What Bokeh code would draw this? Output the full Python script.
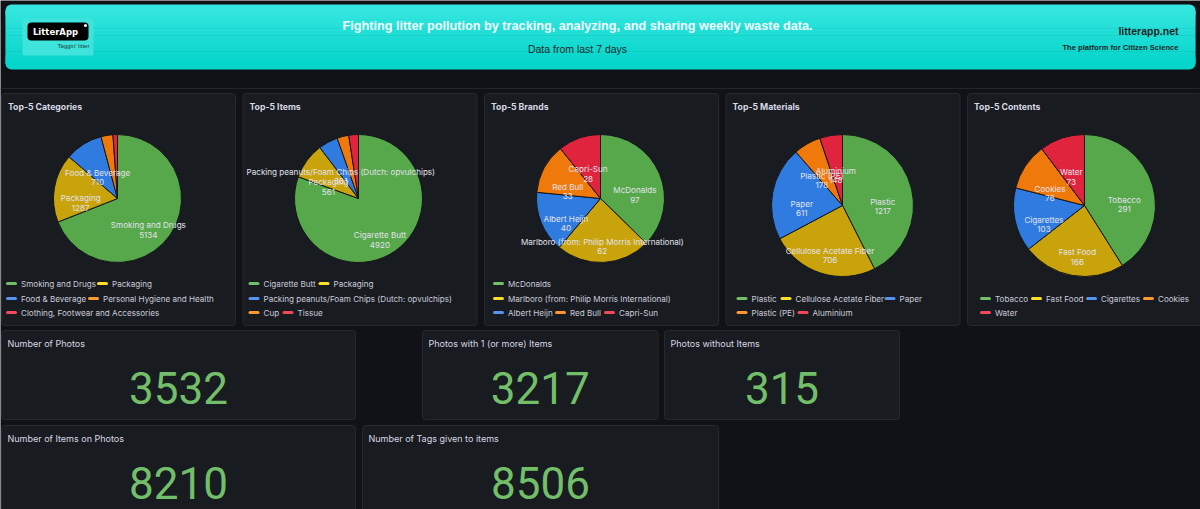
import numpy as np
from bokeh.plotting import figure
from bokeh.models import Range1d
from bokeh.core.properties import value
from bokeh.embed import file_html
from bokeh.resources import INLINE

W, H = 1200, 509

# ---------------- data ----------------
cat_names = ["Smoking and Drugs", "Packaging", "Food & Beverage",
             "Personal Hygiene and Health", "Clothing, Footwear and Accessories"]
cat_values = [5134, 1287, 710, 224, 85]

item_names = ["Cigarette Butt", "Packaging",
              "Packing peanuts/Foam Chips (Dutch: opvulchips)", "Cup", "Tissue"]
item_values = [4920, 561, 301, 180, 150]

brand_names = ["McDonalds", "Marlboro (from: Philip Morris International)",
               "Albert Heijn", "Red Bull", "Capri-Sun"]
brand_values = [97, 62, 40, 33, 28]

material_names = ["Plastic", "Cellulose Acetate Fiber", "Paper", "Plastic (PE)", "Aluminium"]
material_values = [1217, 706, 611, 178, 148]

content_names = ["Tobacco", "Fast Food", "Cigarettes", "Cookies", "Water"]
content_values = [291, 166, 103, 76, 73]

panel_titles = ["Top-5 Categories", "Top-5 Items", "Top-5 Brands", "Top-5 Materials", "Top-5 Contents"]

stat_titles = ["Number of Photos", "Photos with 1 (or more) Items", "Photos without Items",
               "Number of Items on Photos", "Number of Tags given to items"]
stat_values = [3532, 3217, 315, 8210, 8506]

# ---------------- style ----------------
BG = "#111217"
PANEL = "#181b1f"
BORDER = "#262930"
TXT = "#ccccdc"
SLICE = ["#56a84a", "#c9a30c", "#2f7be0", "#f0790c", "#e0243e"]
LEG = ["#73bf69", "#fade2a", "#5794f2", "#ff9830", "#f2495c"]
FONT = value("Inter")
HFONT = value("Liberation Sans")
SMALL = "8.1px"

p = figure(width=W, height=H, x_range=Range1d(0, W), y_range=Range1d(0, H),
           output_backend="svg", toolbar_location=None, min_border=0)
p.axis.visible = False
p.grid.visible = False
p.outline_line_color = None
p.background_fill_color = BG
p.border_fill_color = BG


def Y(y):
    if isinstance(y, (list, tuple, np.ndarray)):
        return [H - v for v in y]
    return H - y


def panel(x0, y0, x1, y1):
    p.quad(left=x0, right=x1, top=Y(y0), bottom=Y(y1), fill_color=PANEL,
           line_color=BORDER, line_width=1, border_radius=3)


# ---------------- header ----------------
top_c = np.array([0x34, 0xe6, 0xdf])
bot_c = np.array([0x06, 0xd5, 0xcb])
p.quad(left=5, right=1195, top=Y(4), bottom=Y(20), fill_color="#%02x%02x%02x" % tuple(top_c),
       line_color=None, border_radius=6)
p.quad(left=5, right=1195, top=Y(52), bottom=Y(69), fill_color="#%02x%02x%02x" % tuple(bot_c),
       line_color=None, border_radius=6)
nb = 30
ys = np.linspace(10, 63, nb + 1)
cols = []
for i in range(nb):
    t = (i + 0.5) / nb
    c = (top_c * (1 - t) + bot_c * t).astype(int)
    cols.append("#%02x%02x%02x" % tuple(c))
p.quad(left=5, right=1195, top=Y(ys[:-1]), bottom=Y(ys[1:] + 0.6), fill_color=cols, line_color=None)

# logo
p.quad(left=22, right=93, top=Y(18), bottom=Y(55), fill_color="#3ee3dc", line_color=None, border_radius=2)
p.quad(left=27, right=88, top=Y(22), bottom=Y(40), fill_color="#000000", line_color=None, border_radius=4)
p.text(x=[55], y=[Y(31.5)], text=["LitterApp"], text_font=value("DejaVu Sans"), text_font_style="bold",
       text_font_size="8.5px", text_color="#ffffff", text_align="center", text_baseline="middle")
p.scatter(x=[85], y=[Y(25)], size=3, fill_color="#ffffff", line_color=None)
p.text(x=[73], y=[Y(45.5)], text=["Taggin' litter"], text_font=HFONT,
       text_font_size="6px", text_color="#1a3a3a", text_align="center", text_baseline="middle")

p.text(x=[577], y=[Y(25)], text=["Fighting litter pollution by tracking, analyzing, and sharing weekly waste data."],
       text_font=HFONT, text_font_style="bold", text_font_size="12.7px",
       text_color="#f4ffff", text_align="center", text_baseline="middle")
p.text(x=[577], y=[Y(48)], text=["Data from last 7 days"], text_font=HFONT,
       text_font_size="10.5px", text_color="#1b2a2a", text_align="center", text_baseline="middle")
p.text(x=[1178], y=[Y(30)], text=["litterapp.net"], text_font=HFONT,
       text_font_style="bold", text_font_size="10.5px", text_color="#1b2626", text_align="right",
       text_baseline="middle")
p.text(x=[1178], y=[Y(47)], text=["The platform for Citizen Science"], text_font=HFONT,
       text_font_style="bold", text_font_size="7.6px", text_color="#1b2626", text_align="right",
       text_baseline="middle")

# separator
p.segment(x0=[0], y0=[Y(88)], x1=[W], y1=[Y(88)], line_color="#22252b", line_width=1)

# ---------------- pie panels ----------------
pies = [
    (cat_names, cat_values, 1, (117, 198, 64),
     [(283, [(0, 7), (1, 98)]), (298, [(2, 7), (3, 89)]), (312, [(4, 7)])]),
    (item_names, item_values, 242.5, (358, 198, 64),
     [(283, [(0, 8), (1, 78)]), (298, [(2, 8)]), (312, [(3, 8), (4, 42)])]),
    (brand_names, brand_values, 484, (600, 198, 64),
     [(283, [(0, 11)]), (298, [(1, 11)]), (312, [(2, 11), (3, 73), (4, 122)])]),
    (material_names, material_values, 725.5, (842, 205, 71),
     [(298, [(0, 13), (1, 57), (2, 161)]), (312, [(3, 13), (4, 74)])]),
    (content_names, content_values, 967, (1084, 205, 71),
     [(298, [(0, 15), (1, 66), (2, 121), (3, 178)]), (312, [(4, 15)])]),
]

for k, (names, vals, left, (cx, cy, r), legend_rows) in enumerate(pies):
    panel(left, 93, left + 234, 325)
    p.text(x=[left + 6.5], y=[Y(106)], text=[panel_titles[k]], text_font=FONT, text_font_style="bold",
           text_font_size="8.7px", text_color="#d8d8e4", text_align="left", text_baseline="middle")
    v = np.array(vals, dtype=float)
    frac = v / v.sum()
    cum = np.concatenate([[0.0], np.cumsum(frac)])
    a0 = np.pi / 2 - 2 * np.pi * cum[:-1]
    a1 = np.pi / 2 - 2 * np.pi * cum[1:]
    p.wedge(x=cx, y=Y(cy), radius=r, start_angle=a1, end_angle=a0, direction="anticlock",
            fill_color=SLICE, line_color="#15171b", line_width=1)
    mid = (a0 + a1) / 2
    lr = r * 7 / 12
    show = frac >= 0.04
    lx = cx + lr * np.cos(mid)
    ly = cy - lr * np.sin(mid) + 6
    nx, ny, nt, vt, vy = [], [], [], [], []
    for i in range(len(vals)):
        if show[i]:
            nx.append(lx[i]); ny.append(Y(ly[i])); nt.append(names[i])
            vy.append(Y(ly[i] + 9.5)); vt.append(str(vals[i]))
    p.text(x=nx, y=ny, text=nt, text_font=FONT, text_font_size=SMALL, text_color="#e2e2ec",
           text_align="center", text_baseline="middle")
    p.text(x=nx, y=vy, text=vt, text_font=FONT, text_font_size=SMALL, text_color="#e2e2ec",
           text_align="center", text_baseline="middle")
    # legend
    for (ry, entries) in legend_rows:
        for (idx, off) in entries:
            x0 = left - 1 + off
            p.segment(x0=[x0], y0=[Y(ry)], x1=[x0 + 8], y1=[Y(ry)], line_color=LEG[idx],
                      line_width=3, line_cap="round")
            p.text(x=[x0 + 13.5], y=[Y(ry)], text=[names[idx]], text_font=FONT, text_font_size=SMALL,
                   text_color=TXT, text_align="left", text_baseline="middle")

# ---------------- stat panels ----------------
stat_boxes = [(1, 330, 355, 419), (422, 330, 657.5, 419), (664, 330, 899, 419),
              (1, 425, 355, 520), (362, 425, 718, 520)]
for i, (x0, y0, x1, y1) in enumerate(stat_boxes):
    panel(x0, y0, x1, y1)
    p.text(x=[x0 + 6], y=[Y(y0 + 13)], text=[stat_titles[i]], text_font=FONT, text_font_size="9px",
           text_color="#d8d8e4", text_align="left", text_baseline="middle")
    p.text(x=[(x0 + x1) / 2], y=[Y(y0 + 57.5)], text=[str(stat_values[i])], text_font=value("Roboto"),
           text_font_size="44px", text_color="#73bf69", text_align="center", text_baseline="middle")

open("out.html", "w").write(file_html(p, INLINE))
